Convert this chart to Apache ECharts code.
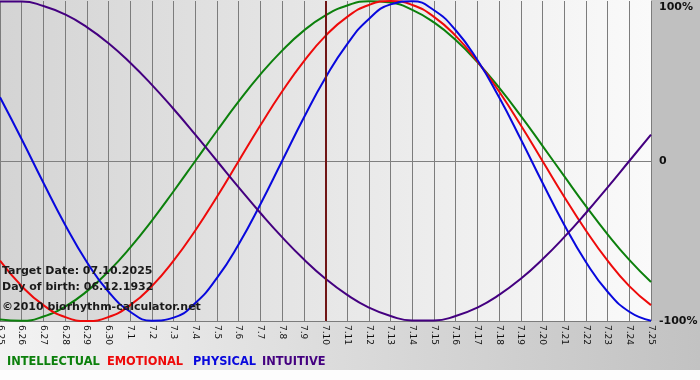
<!DOCTYPE html>
<html>
<head>
<meta charset="utf-8">
<script src="https://cdn.jsdelivr.net/npm/echarts@6/dist/echarts.min.js"></script>
<style>
html,body{margin:0;padding:0;background:#fdfdfd;}
#chart{width:700px;height:380px;}
</style>
</head>
<body>
<div id="chart"></div>
<script>
var days = ['6.25','6.26','6.27','6.28','6.29','6.30','7.1','7.2','7.3','7.4','7.5','7.6','7.7','7.8','7.9','7.10','7.11','7.12','7.13','7.14','7.15','7.16','7.17','7.18','7.19','7.20','7.21','7.22','7.23','7.24','7.25'];
var intellectual = [-99.0,-99.9,-97.2,-91.0,-81.5,-69.0,-54.1,-37.2,-18.9,0,18.9,37.2,54.1,69.0,81.5,91.0,97.2,99.9,99.0,94.5,86.6,75.6,61.8,45.8,28.2,9.5,-9.5,-28.2,-45.8,-61.8,-75.6];
var emotional = [-62.3,-78.2,-90.1,-97.5,-100,-97.5,-90.1,-78.2,-62.3,-43.4,-22.3,0,22.3,43.4,62.3,78.2,90.1,97.5,100,97.5,90.1,78.2,62.3,43.4,22.3,0,-22.3,-43.4,-62.3,-78.2,-90.1];
var physical = [39.8,13.6,-13.6,-39.8,-63.1,-81.7,-94.2,-99.8,-97.9,-88.8,-73.1,-52.0,-27.0,0,27.0,52.0,73.1,88.8,97.9,99.8,94.2,81.7,63.1,39.8,13.6,-13.6,-39.8,-63.1,-81.7,-94.2,-99.8];
var intuitive = [99.7,99.7,96.9,91.6,83.7,73.6,61.4,47.6,32.5,16.5,0,-16.5,-32.5,-47.6,-61.4,-73.6,-83.7,-91.6,-96.9,-99.7,-99.7,-96.9,-91.6,-83.7,-73.6,-61.4,-47.6,-32.5,-16.5,0,16.5];
var targetDay = '7.10';
var yTicks = {'100':'100%','0':'0','-100':'-100%'};
var infoLines = ['Target Date: 07.10.2025','Day of birth: 06.12.1932','©2010 biorhythm-calculator.net'];
var seriesNames = ['INTELLECTUAL','EMOTIONAL','PHYSICAL','INTUITIVE'];
var seriesColors = ['#0c800c','#ee0a0a','#0808dd','#440080'];

var chart = echarts.init(document.getElementById('chart'));
var FONT = '"DejaVu Sans", Verdana, sans-serif';
var legendX = [7, 107, 193, 262];

var graphics = [
  {type:'rect', z:-10, silent:true, shape:{x:0,y:0,width:651,height:321},
   style:{fill:new echarts.graphic.LinearGradient(0,0,1,0,[{offset:0,color:'#d4d4d4'},{offset:1,color:'#fafafa'}])}},
  {type:'rect', z:-10, silent:true, shape:{x:651,y:0,width:49,height:321}, style:{fill:'#c0c0c0'}},
  {type:'rect', z:-10, silent:true, shape:{x:0,y:321,width:700,height:49},
   style:{fill:new echarts.graphic.LinearGradient(0,0,1,0,[{offset:0,color:'#f3f3f3'},{offset:1,color:'#c2c2c2'}])}}
];
var infoY = [271, 287, 307];
infoLines.forEach(function(t,i){
  graphics.push({type:'text', z:100, silent:true, x:2, y:infoY[i],
    style:{text:t, font:'bold 11px '+FONT, fill:'#1a1a1a', verticalAlign:'middle', align:'left'}});
});
seriesNames.forEach(function(n,i){
  graphics.push({type:'text', z:100, silent:true, x:legendX[i], y:362,
    style:{text:n, font:'bold 11.4px '+FONT, fill:seriesColors[i], verticalAlign:'middle', align:'left'}});
});

var series = [intellectual, emotional, physical, intuitive].map(function(d,i){
  return {
    name: seriesNames[i], type:'line', data:d, smooth:true, symbol:'none',
    lineStyle:{width:2, color:seriesColors[i]}, itemStyle:{color:seriesColors[i]},
    animation:false, z:3
  };
});
series[0].markLine = {
  silent:true, symbol:'none', animation:false,
  label:{show:false},
  lineStyle:{color:'#701515', width:2, type:'solid'},
  data:[{xAxis: targetDay}]
};

chart.setOption({
  animation:false,
  grid:{left:0, right:49, top:1, bottom:59, containLabel:false, outerBoundsMode:'none'},
  xAxis:{
    type:'category', data:days, boundaryGap:false,
    axisLine:{show:true, lineStyle:{color:'#808080', width:1}},
    axisTick:{show:true, length:3, lineStyle:{color:'#808080'}},
    axisLabel:{interval:0, rotate:-90, margin:4, fontSize:9, fontFamily:FONT, color:'#111'},
    splitLine:{show:true, interval:0, lineStyle:{color:'#7c7c7c', width:1}}
  },
  yAxis:{
    type:'value', position:'right', min:-100, max:100, interval:100,
    axisLine:{show:false}, axisTick:{show:false},
    splitLine:{show:true, lineStyle:{color:['#7c7c7c','#7c7c7c','rgba(0,0,0,0)'], width:1}},
    axisLabel:{
      margin:8, fontSize:11, fontWeight:'bold', fontFamily:FONT, color:'#111',
      formatter:function(v){ var t = yTicks[String(v)]; return v===100 ? '{top|'+t+'}' : t; },
      rich:{top:{padding:[12,0,0,0], fontSize:11, fontWeight:'bold', fontFamily:FONT, color:'#111'}}
    }
  },
  graphic: graphics,
  series: series
});
</script>
</body>
</html>
